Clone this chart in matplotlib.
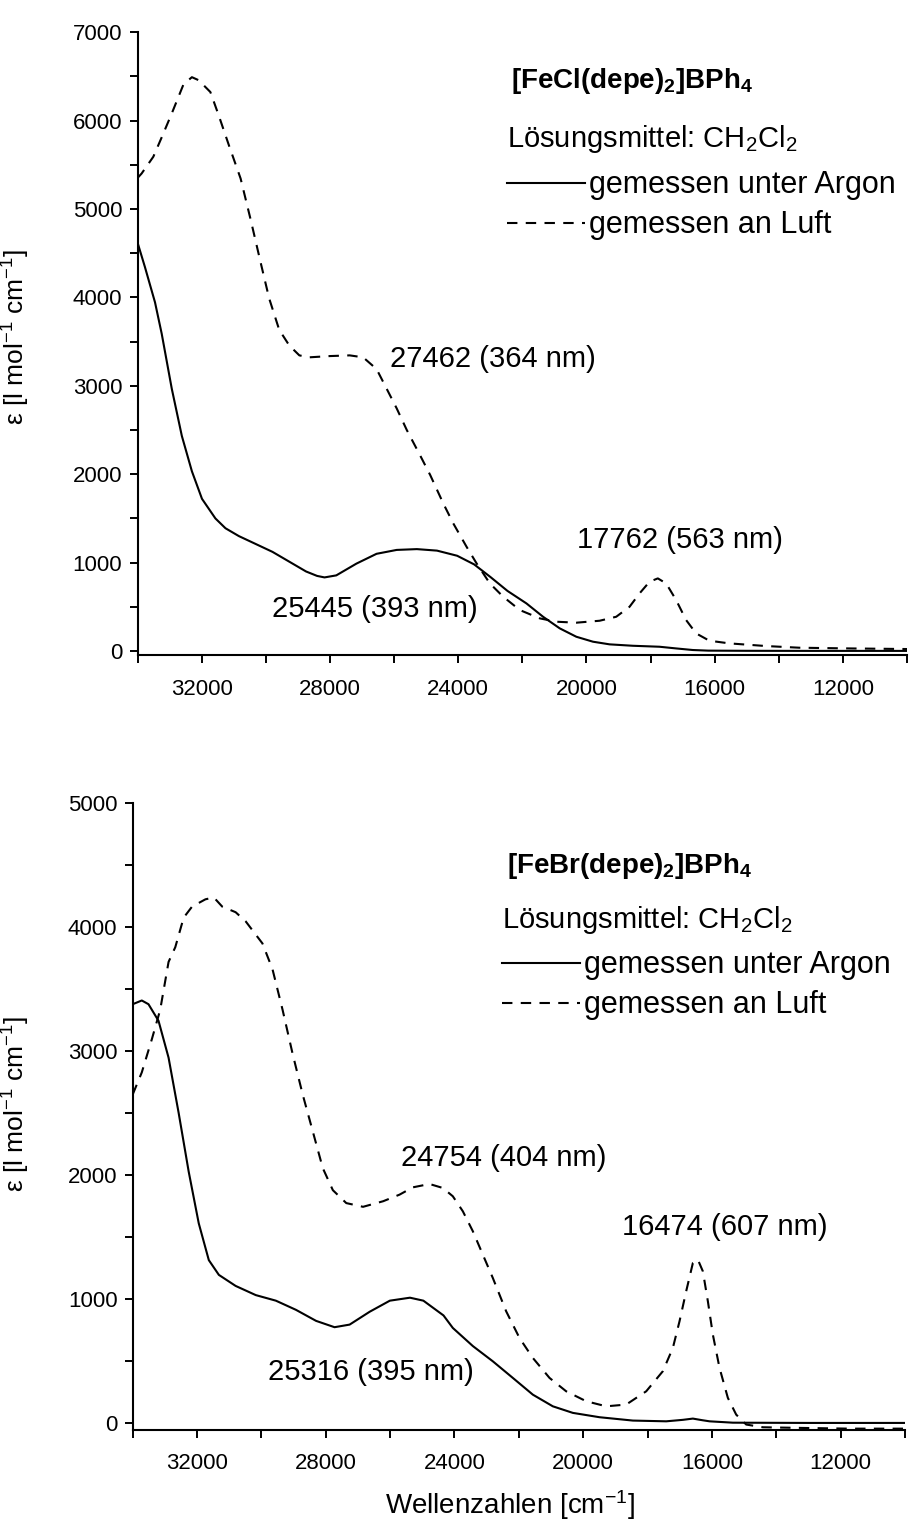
import numpy as np
import matplotlib
matplotlib.use('Agg')
import matplotlib.pyplot as plt
from matplotlib.ticker import MultipleLocator
from matplotlib.lines import Line2D

plt.rcParams['font.family'] = 'Liberation Sans'
plt.rcParams['mathtext.fontset'] = 'custom'
plt.rcParams['mathtext.rm'] = 'Liberation Sans'
plt.rcParams['mathtext.it'] = 'Liberation Sans:italic'
plt.rcParams['mathtext.bf'] = 'Liberation Sans:bold'

# --- [FeCl(depe)2]BPh4, measured under argon (solid)
cl_argon_wn = [34000, 33770, 33455, 33246, 32932, 32618, 32304, 31990, 31571, 31257,
               30838, 30314, 29791, 29267, 28743, 28400, 28168, 27801, 27173, 26545,
               25916, 25288, 24660, 24031, 23500, 22984, 22460, 21870, 21351, 20832,
               20314, 19795, 19276, 18550, 17720, 17201, 16682, 16200, 15000, 13000,
               11000, 10000]
cl_argon_eps = [4620, 4344, 3944, 3589, 2967, 2433, 2033, 1722, 1500, 1389,
                1300, 1211, 1122, 1011, 900, 850, 833, 856, 989, 1100,
                1144, 1153, 1136, 1078, 980, 835, 680, 539, 388, 257,
                162, 106, 76, 60, 49, 30, 12, 5, 3, 2,
                2, 2]
# --- [FeCl(depe)2]BPh4, measured in air (dashed)
cl_air_wn = [34000, 33874, 33508, 33246, 32932, 32565, 32304, 32094, 31728, 31466,
             31152, 30785, 30471, 30157, 29895, 29581, 29267, 28953, 28639, 28010,
             27382, 26963, 26544, 26230, 25916, 25602, 25183, 24869, 24464, 24152,
             23738, 23424, 23011, 22596, 22077, 21455, 20936, 20314, 19588, 19070,
             18654, 18342, 18031, 17772, 17512, 17201, 16890, 16578, 16163, 15541,
             14399, 13362, 11805, 10000]
cl_air_eps = [5350, 5400, 5590, 5810, 6080, 6410, 6490, 6456, 6322, 6056,
              5722, 5344, 4878, 4389, 3989, 3633, 3456, 3344, 3322, 3336,
              3344, 3322, 3189, 2967, 2744, 2500, 2211, 1989, 1670, 1444,
              1180, 991, 765, 615, 464, 370, 332, 321, 343, 388,
              501, 652, 784, 822, 765, 577, 351, 200, 117, 87,
              57, 38, 30, 23]

# --- [FeBr(depe)2]BPh4, measured under argon (solid)
br_argon_wn = [34000, 33718, 33510, 33198, 32886, 32573, 32260, 31948, 31635, 31323,
               30802, 30177, 29551, 28926, 28301, 27728, 27259, 26634, 26009, 25384,
               24967, 24342, 24052, 23430, 22809, 22187, 21565, 20944, 20322, 19493,
               18457, 17421, 16900, 16592, 16300, 16074, 15349, 13000, 10000]
br_argon_eps = [3377, 3407, 3377, 3243, 2946, 2501, 2026, 1610, 1313, 1194,
                1105, 1031, 986, 912, 823, 772, 793, 897, 986, 1010,
                986, 867, 766, 620, 497, 363, 228, 134, 81, 46,
                19, 13, 25, 35, 22, 13, 2, 0, 0]
# --- [FeBr(depe)2]BPh4, measured in air (dashed)
br_air_wn = [34000, 33718, 33405, 33146, 32886, 32677, 32417, 32156, 31740, 31479,
             31218, 30802, 30489, 29968, 29656, 29343, 29030, 28718, 28405, 28093,
             27780, 27363, 26842, 26217, 25709, 25295, 24777, 24363, 24052, 23741,
             23430, 23119, 22809, 22394, 21980, 21565, 21047, 20529, 19908, 19286,
             18665, 18043, 17525, 17214, 17007, 16800, 16592, 16437, 16282, 16126,
             15971, 15764, 15505, 15246, 14935, 14417, 13277, 11723, 10000]
br_air_eps = [2649, 2827, 3095, 3332, 3718, 3837, 4075, 4164, 4223, 4238,
              4164, 4119, 4045, 3867, 3659, 3332, 2976, 2649, 2352, 2055,
              1877, 1773, 1743, 1788, 1841, 1900, 1927, 1895, 1828, 1707,
              1546, 1357, 1169, 900, 685, 524, 363, 255, 175, 134,
              148, 255, 417, 605, 820, 1062, 1290, 1317, 1223, 981,
              712, 444, 202, 67, -13, -35, -40, -46, -46]

compounds = [r'$\mathbf{[FeCl(depe)_2]BPh_4}$', r'$\mathbf{[FeBr(depe)_2]BPh_4}$']
solvent = 'Lösungsmittel: CH$_2$Cl$_2$'
labels = ['gemessen unter Argon', 'gemessen an Luft']
peak_texts = [
    [('27462 (364 nm)', 26124, 3302), ('25445 (393 nm)', 29814, 475), ('17762 (563 nm)', 20301, 1255)],
    [('24754 (404 nm)', 25669, 2137), ('25316 (395 nm)', 29785, 411), ('16474 (607 nm)', 18800, 1581)],
]

fig = plt.figure(figsize=(9.09, 15.28), dpi=100)
axes = [fig.add_axes([0.1513, 0.5713, 0.8465, 0.4077]),
        fig.add_axes([0.146, 0.0643, 0.8496, 0.4102])]
curves = [(cl_argon_wn, cl_argon_eps, cl_air_wn, cl_air_eps),
          (br_argon_wn, br_argon_eps, br_air_wn, br_air_eps)]
ylims = [(-45, 7000), (-55, 5000)]
# legend block positions (axes fraction): x, title y, solvent y, legend centre y
blocks = [(0.480, 0.921, 0.829, 0.722), (0.478, 0.899, 0.814, 0.709)]
ylab_pos = [(-0.137, 0.51), (-0.130, 0.52)]

lw = 1.5
dash = (0, (5, 4))
for i, ax in enumerate(axes):
    wa, ea, wl, el = curves[i]
    ax.plot(wa, ea, color='black', lw=lw)
    ax.plot(wl, el, color='black', lw=lw, linestyle=dash)
    ax.set_xlim(34000, 10000)
    ax.set_ylim(*ylims[i])
    ax.xaxis.set_major_locator(MultipleLocator(4000))
    ax.xaxis.set_minor_locator(MultipleLocator(2000))
    ax.yaxis.set_major_locator(MultipleLocator(1000))
    ax.yaxis.set_minor_locator(MultipleLocator(500))
    ax.spines['top'].set_visible(False)
    ax.spines['right'].set_visible(False)
    ax.spines['left'].set_linewidth(1.5)
    ax.spines['bottom'].set_linewidth(1.5)
    ax.tick_params(which='both', direction='out', length=6, width=1.4, labelsize=16, pad=5)
    ax.tick_params(axis='x', which='both', pad=11)
    ax.set_ylabel(r'ε [l mol$^{-1}$ cm$^{-1}$]', fontsize=19)
    ax.yaxis.set_label_coords(*ylab_pos[i])

    for txt, x, y in peak_texts[i]:
        ax.text(x, y, txt, fontsize=21, ha='left', va='center')

    bx, ty, sy, ly = blocks[i]
    ax.text(bx + 0.006, ty, compounds[i], fontsize=20, ha='left', va='center', transform=ax.transAxes)
    ax.text(bx, sy, solvent, fontsize=21, ha='left', va='center', transform=ax.transAxes)
    handles = [Line2D([], [], color='black', lw=lw),
               Line2D([], [], color='black', lw=lw, linestyle=dash)]
    ax.legend(handles, labels, loc='center left', bbox_to_anchor=(bx, ly),
              frameon=False, fontsize=22, borderpad=0, borderaxespad=0,
              handlelength=2.55, handletextpad=0.15, labelspacing=0.33)

axes[1].set_xlabel(r'Wellenzahlen [cm$^{-1}$]', fontsize=20, va='center')
axes[1].xaxis.set_label_coords(0.489, -0.12)

plt.savefig('out.png', dpi=100)
plt.close()
